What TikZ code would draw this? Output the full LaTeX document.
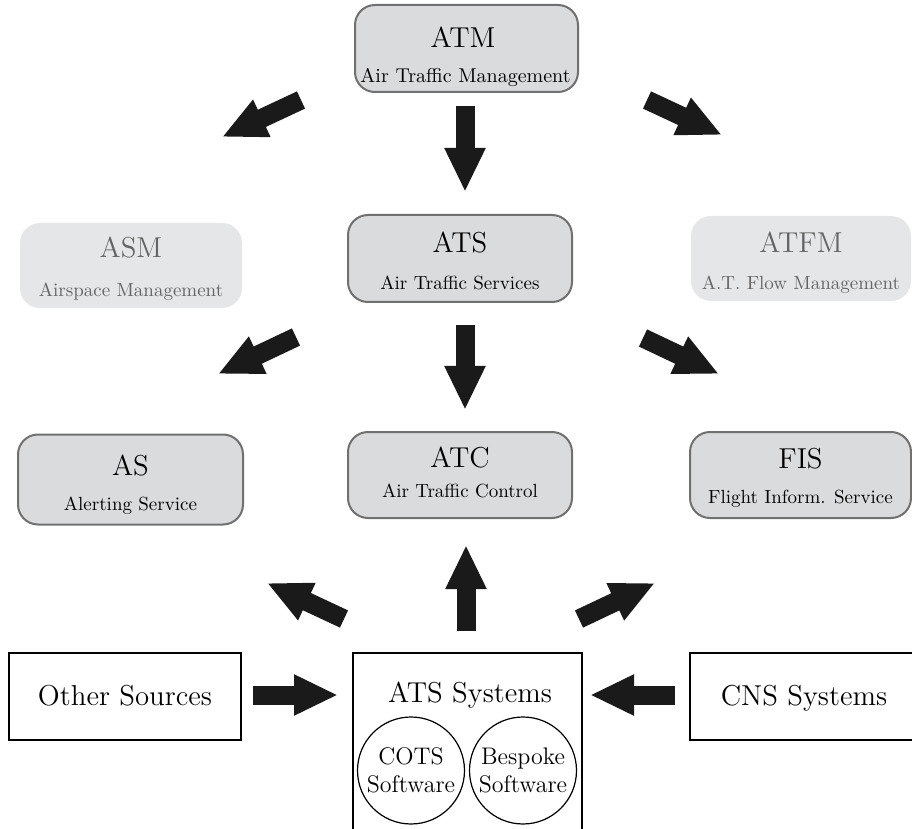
\documentclass[tikz,border=0pt]{standalone}
\usetikzlibrary{arrows.meta}
\definecolor{boxfill}{RGB}{218,219,221}
\definecolor{boxline}{RGB}{112,112,112}
\definecolor{fadefill}{RGB}{229,230,232}
\definecolor{fadetext}{RGB}{100,100,100}
\definecolor{arrowcol}{RGB}{26,26,26}
\begin{document}
\begin{tikzpicture}[x=0.5pt,y=-0.5pt,
  box/.style={draw=boxline, line width=1pt, fill=boxfill, rounded corners=10pt, inner sep=0pt},
  fadebox/.style={draw=none, fill=fadefill, rounded corners=10pt, inner sep=0pt},
  plainbox/.style={draw=black, line width=0.6pt, fill=white, inner sep=0pt},
  bigtext/.style={font=\Large, anchor=base, inner sep=0pt},
  subtext/.style={font=\fontsize{9.5}{11}\selectfont, anchor=base, inner sep=0pt},
  circ/.style={draw=black, line width=0.6pt, circle, minimum size=53.5pt, inner sep=0pt, font=\large, align=center},
  bigarrow/.style={draw=arrowcol, line width=9.5pt, -{Triangle[width=19pt,length=22pt]}}
]
\useasboundingbox (0,0) rectangle (912,829);

% --- boxes ---
\node[box, minimum width=111.5pt, minimum height=43.5pt] (atm) at (466.5,48.5) {};
\node[fadebox, minimum width=111pt, minimum height=42.5pt] (asm) at (131,265.5) {};
\node[box, minimum width=112pt, minimum height=43.5pt] (ats) at (460,258.5) {};
\node[fadebox, minimum width=110pt, minimum height=42.5pt] (atfm) at (801,258.5) {};
\node[box, minimum width=112.5pt, minimum height=45pt] (as) at (130.5,479.5) {};
\node[box, minimum width=112pt, minimum height=43pt] (atc) at (460,475) {};
\node[box, minimum width=110.5pt, minimum height=43pt] (fis) at (800.5,475) {};
\node[plainbox, minimum width=116pt, minimum height=43.5pt] (other) at (125,696.5) {};
\node[plainbox, minimum width=114.5pt, minimum height=98.5pt] (sys) at (467.5,751.5) {};
\node[plainbox, minimum width=114pt, minimum height=43.5pt] (cns) at (804,696.5) {};

% --- texts ---
\node[bigtext] (atm-t) at (463,48) {ATM};
\node[bigtext, font=\normalsize] (atm-s) at (465.5,83) {Air Traffic Management};
\node[bigtext, text=fadetext] (asm-t) at (131,257) {ASM};
\node[subtext, text=fadetext] (asm-s) at (131,297) {Airspace Management};
\node[bigtext] (ats-t) at (460,253) {ATS};
\node[subtext] (ats-s) at (460,290) {Air Traffic Services};
\node[bigtext, text=fadetext] (atfm-t) at (801,253) {ATFM};
\node[subtext, text=fadetext] (atfm-s) at (801,290) {A.T. Flow Management};
\node[bigtext] (as-t) at (130.5,475) {AS};
\node[subtext] (as-s) at (130.5,510) {Alerting Service};
\node[bigtext] (atc-t) at (460,467) {ATC};
\node[subtext] (atc-s) at (460,497) {Air Traffic Control};
\node[bigtext] (fis-t) at (800.5,468) {FIS};
\node[subtext] (fis-s) at (800.5,503) {Flight Inform. Service};
\node[bigtext] (other-t) at (125,705) {Other Sources};
\node[bigtext] (sys-t) at (470,702) {ATS Systems};
\node[bigtext] (cns-t) at (804,705) {CNS Systems};

\node[circ] (cots) at (411,770.5) {COTS\\Software};
\node[circ] (bespoke) at (523,770.5) {Bespoke\\Software};

% --- arrow ends ---
\coordinate (a1s) at (465,106);  \coordinate (a1e) at (465,192);
\coordinate (a2s) at (301,100);  \coordinate (a2e) at (222,137);
\coordinate (a3s) at (647,100);  \coordinate (a3e) at (722,135);
\coordinate (a4s) at (465,325);  \coordinate (a4e) at (465,410);
\coordinate (a5s) at (296,337);  \coordinate (a5e) at (218,374);
\coordinate (a6s) at (643,338);  \coordinate (a6e) at (719,374);
\coordinate (a7s) at (466,631);  \coordinate (a7e) at (466,545);
\coordinate (a8s) at (344,619);  \coordinate (a8e) at (267,583);
\coordinate (a9s) at (579,619);  \coordinate (a9e) at (655,583);
\coordinate (a10s) at (253,695); \coordinate (a10e) at (338,695);
\coordinate (a11s) at (675,695); \coordinate (a11e) at (590,695);

\foreach \i in {1,...,11} {\draw[bigarrow] (a\i s) -- (a\i e);}
\end{tikzpicture}
\end{document}
